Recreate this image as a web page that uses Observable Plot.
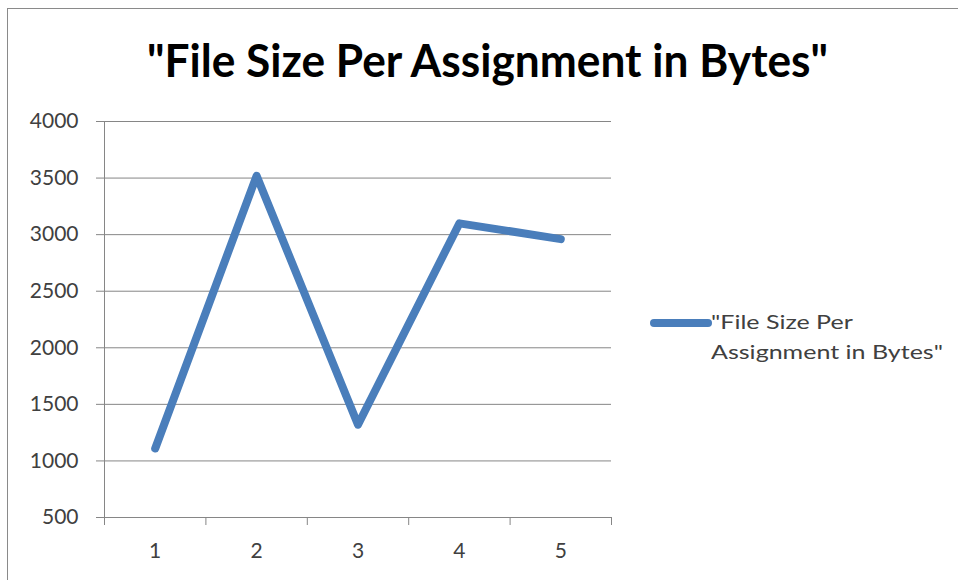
<!DOCTYPE html>
<html>
<head>
<meta charset="utf-8">
<script src="https://cdn.jsdelivr.net/npm/d3@7"></script>
<script src="https://cdn.jsdelivr.net/npm/@observablehq/plot@0.6"></script>
<style>
  html, body { margin: 0; padding: 0; background: #fff; }
  #wrap { position: relative; width: 958px; height: 580px; overflow: hidden; font-family: Lato, "Open Sans", sans-serif; background: #fff; }
  #frame { position: absolute; left: 7px; top: 8px; width: 1000px; height: 700px; border: 1px solid #8a8a8a; box-sizing: border-box; }
  #chart { position: absolute; left: 0; top: 0; }
  .txt { position: absolute; white-space: nowrap; line-height: 1.2; transform-origin: 0 0; margin: 0; }
  #title { font-weight: bold; color: #000; font-size: 46px; }
  .leg { color: #404040; font-size: 19.5px; }
  #legline { position: absolute; left: 650px; top: 319px; width: 62px; height: 8px; border-radius: 4px; background: #4a7ebb; }
  .bl { display: inline-block; width: 0; height: 0; vertical-align: baseline; }
</style>
</head>
<body>
<div id="wrap">
  <div id="frame"></div>
  <div id="chart"></div>
  <div id="title" class="txt"></div>
  <div id="legline"></div>
  <div id="leg1" class="txt leg"></div>
  <div id="leg2" class="txt leg"></div>
</div>
<script>
// ---- data ----
const categories = [1, 2, 3, 4, 5];
const fileSizes = [1110, 3520, 1320, 3100, 2960];
const yTicks = [500, 1000, 1500, 2000, 2500, 3000, 3500, 4000];
const categoryEdges = [0.5, 1.5, 2.5, 3.5, 4.5, 5.5];
const titleText = '"File Size Per Assignment in Bytes"';
const legendLines = ['"File Size Per', 'Assignment in Bytes"'];

const data = categories.map((c, i) => ({category: c, size: fileSizes[i]}));
const gridColor = "#868686";
const lineColor = "#4a7ebb";

const chart = Plot.plot({
  width: 958,
  height: 580,
  marginLeft: 104,
  marginRight: 347,
  marginTop: 121,
  marginBottom: 63,
  style: {fontFamily: "Lato, 'Open Sans', sans-serif", fontSize: "21px", color: "#404040", background: "transparent", overflow: "visible"},
  x: {type: "linear", domain: [0.5, 5.5]},
  y: {domain: [500, 4000]},
  marks: [
    Plot.ruleY(yTicks, {stroke: gridColor, strokeWidth: 1}),
    Plot.ruleX([0.5], {y1: 500, y2: 4000, stroke: gridColor}),
    Plot.axisY({ticks: yTicks, tickSize: 8, tickPadding: 18, stroke: gridColor, strokeOpacity: 1, tickFormat: d => String(d), label: null}),
    Plot.axisX({ticks: categoryEdges, tickSize: 8, tickFormat: () => "", stroke: gridColor, strokeOpacity: 1, label: null}),
    Plot.axisX({ticks: categories, tickSize: 0, tickPadding: 26, tickFormat: d => String(d), label: null}),
    Plot.line(data, {x: "category", y: "size", stroke: lineColor, strokeWidth: 8, strokeLinecap: "round", strokeLinejoin: "round"})
  ]
});
document.getElementById("chart").appendChild(chart);

// ---- text placement: fit width and baseline ----
function setText(el, text) {
  el.textContent = text;
  const s = document.createElement("span");
  s.className = "bl";
  el.appendChild(s);
  return s;
}
function place(el, marker, left, baseline, scale) {
  el.style.left = left + "px";
  el.style.top = "0px";
  el.style.transform = "none";
  const b = marker.getBoundingClientRect().top - el.getBoundingClientRect().top;
  el.style.top = (baseline - b) + "px";
  el.style.transform = "scaleX(" + scale + ")";
}
const titleEl = document.getElementById("title");
const tm = setText(titleEl, titleText);
const tw = titleEl.getBoundingClientRect().width;
place(titleEl, tm, 147, 77, 681 / tw);

const l1 = document.getElementById("leg1");
const l2 = document.getElementById("leg2");
const m1 = setText(l1, legendLines[0]);
const m2 = setText(l2, legendLines[1]);
const lw = l2.getBoundingClientRect().width;
const ls = 232 / lw;
place(l1, m1, 711, 329, ls);
place(l2, m2, 711, 359, ls);
</script>
</body>
</html>
